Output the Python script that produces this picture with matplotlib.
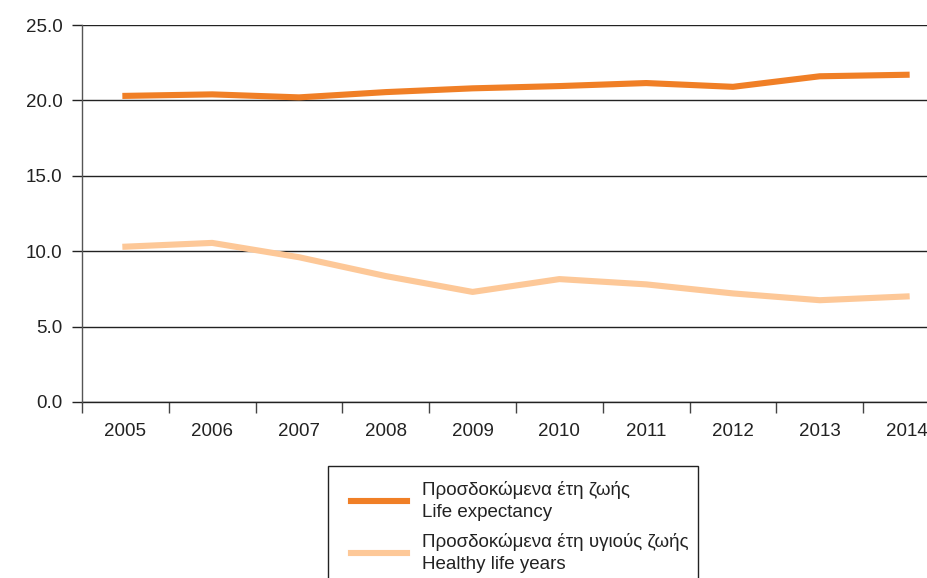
import matplotlib.pyplot as plt
from matplotlib.patches import Rectangle

plt.rcParams['font.family'] = ['Liberation Sans', 'DejaVu Sans']

years = ['2005', '2006', '2007', '2008', '2009', '2010', '2011', '2012', '2013', '2014']
life_expectancy = [20.3, 20.4, 20.2, 20.55, 20.8, 20.95, 21.15, 20.9, 21.6, 21.7]
healthy_years = [10.3, 10.55, 9.6, 8.35, 7.3, 8.15, 7.8, 7.2, 6.75, 7.0]
labels = ['Προσδοκώμενα έτη ζωής\nLife expectancy',
          'Προσδοκώμενα έτη υγιούς ζωής\nHealthy life years']
colors = ['#F07F26', '#FDC898']

W, H = 928, 578
FS = 13.5
fig = plt.figure(figsize=(W / 100, H / 100), dpi=100)
# plot area runs off the right edge, as in the original crop
ax = fig.add_axes([82 / W, 1 - 402 / H, 868 / W, 377 / H])

x = list(range(len(years)))
ax.plot(x, life_expectancy, color=colors[0], lw=4.4, label=labels[0], zorder=3)
ax.plot(x, healthy_years, color=colors[1], lw=4.4, label=labels[1], zorder=3)

ax.set_xlim(-0.5, len(years) - 0.5)
ax.set_ylim(0, 25)
yt = [0, 5, 10, 15, 20, 25]
ax.set_yticks(yt)
ax.set_yticklabels([f'{v:.1f}' for v in yt])
ax.grid(axis='y', color='#222222', lw=1.0, zorder=1)
ax.axhline(0, color='#222222', lw=1.0, clip_on=False, zorder=2)

ax.set_xticks([i - 0.5 for i in range(len(years) + 1)])
ax.set_xticklabels([])
ax.set_xticks(x, minor=True)
ax.set_xticklabels(years, minor=True)
ax.tick_params(axis='x', which='major', length=8, width=1, color='#444444', direction='out')
ax.tick_params(axis='x', which='minor', length=0, pad=15, labelsize=FS, labelcolor='#222222')
ax.tick_params(axis='y', length=7.5, width=1, color='#222222', pad=6.5, labelsize=FS, labelcolor='#222222')

for s in ['top', 'right', 'bottom']:
    ax.spines[s].set_visible(False)
ax.spines['left'].set_color('#555555')
ax.spines['left'].set_linewidth(1.0)

leg = fig.legend(loc='upper left', bbox_to_anchor=(334 / W, 1 - 464 / H), frameon=False,
                 fontsize=FS, handlelength=3.0, handletextpad=0.8, labelspacing=0.62,
                 labelcolor='#222222')
for h in leg.get_lines():
    h.set_linewidth(4.4)
for t in leg.get_texts():
    t.set_linespacing(1.4)

fig.patches.append(Rectangle((328 / W, -0.05), 370 / W, 1 - 466 / H + 0.05,
                             transform=fig.transFigure, fill=False,
                             edgecolor='#222222', lw=1.0))

fig.savefig('out.png', dpi=100)
